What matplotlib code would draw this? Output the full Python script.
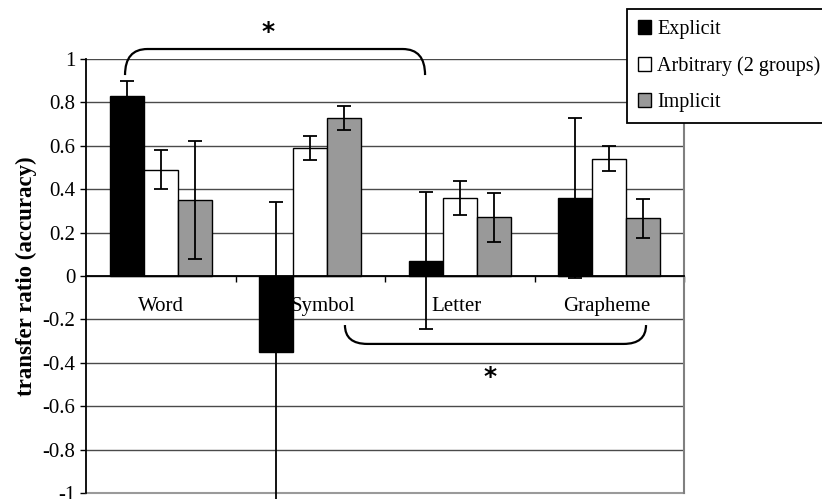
import numpy as np
import matplotlib
matplotlib.use("Agg")
import matplotlib.pyplot as plt
from matplotlib.path import Path
from matplotlib.patches import PathPatch

categories = ["Word", "Symbol", "Letter", "Grapheme"]
series = ["Explicit", "Arbitrary (2 groups)", "Implicit"]
explicit = [0.83, -0.35, 0.07, 0.36]
explicit_err = [0.07, 0.69, 0.315, 0.37]
arbitrary = [0.49, 0.59, 0.36, 0.54]
arbitrary_err = [0.09, 0.055, 0.078, 0.058]
implicit = [0.35, 0.73, 0.27, 0.265]
implicit_err = [0.27, 0.055, 0.114, 0.088]
yticks = [1, 0.8, 0.6, 0.4, 0.2, 0, -0.2, -0.4, -0.6, -0.8, -1]
ytick_labels = ["1", "0.8", "0.6", "0.4", "0.2", "0", "-0.2", "-0.4", "-0.6", "-0.8", "-1"]

plt.rcParams['font.family'] = ['Liberation Serif', 'DejaVu Serif']

W, H = 822, 499
fig = plt.figure(figsize=(W / 100, H / 100), dpi=100)
ax = fig.add_axes([86 / W, 1 - 493 / H, (684 - 86) / W, (493 - 59) / H])

x = np.arange(len(categories))
bw = 0.227
colors = ["black", "white", "#999999"]
vals = [explicit, arbitrary, implicit]
errs = [explicit_err, arbitrary_err, implicit_err]
handles = []
for i, (v, e, c, name) in enumerate(zip(vals, errs, colors, series)):
    pos = x + (i - 1) * bw
    b = ax.bar(pos, v, width=bw, color=c, edgecolor="black", linewidth=1.0,
               label=name, zorder=3)
    handles.append(b)
    ax.errorbar(pos, v, yerr=e, fmt="none", ecolor="black", elinewidth=1.3,
                capsize=4.7, capthick=1.3, zorder=4, clip_on=False)

ax.set_xlim(-0.5, 3.5)
ax.set_ylim(-1, 1)
ax.set_yticks(yticks)
ax.set_yticklabels(ytick_labels, fontsize=15)
ax.yaxis.grid(True, color="#4a4a4a", linewidth=1.0, zorder=0)
ax.set_axisbelow(True)
ax.tick_params(axis="y", direction="out", length=4.5, width=1.0, pad=3, color="black")

ax.spines["bottom"].set_position(("data", 0))
ax.spines["bottom"].set_color("black")
ax.spines["bottom"].set_linewidth(1.3)
ax.spines["bottom"].set_zorder(5)
ax.spines["left"].set_linewidth(1.3)
ax.spines["left"].set_color("black")
ax.spines["top"].set_visible(False)
ax.spines["right"].set_color("#808080")
ax.spines["right"].set_linewidth(1.5)
ax.axhline(-1, color="#9a9a9a", linewidth=1.5, zorder=1, clip_on=False)
ax.set_xticks([0.5, 1.5, 2.5, 3.5])
ax.set_xticklabels([])
ax.tick_params(axis="x", direction="out", length=4.3, width=1.0, color="black")

label_shift = [0, 0.085, -0.02, -0.02]
for xi, name, s in zip(x, categories, label_shift):
    ax.text(xi + s, -0.14, name, ha="center", va="center", fontsize=15, zorder=2)

ax.set_ylabel("transfer ratio (accuracy)", fontsize=16.5, fontweight="bold")
ax.yaxis.set_label_coords(-49 / 598, 0.5)


def bracket(x0, x1, y_end, y_mid, rx):
    verts = [(x0, y_end), (x0, y_mid), (x0 + rx, y_mid),
             (x1 - rx, y_mid), (x1, y_mid), (x1, y_end)]
    codes = [Path.MOVETO, Path.CURVE3, Path.CURVE3,
             Path.LINETO, Path.CURVE3, Path.CURVE3]
    p = PathPatch(Path(verts, codes), fill=False, edgecolor="black",
                  linewidth=1.6, clip_on=False, zorder=6)
    ax.add_patch(p)


bracket(-0.239, 1.768, 0.926, 1.046, 0.15)
bracket(1.232, 3.246, -0.226, -0.313, 0.15)
ax.text(0.717, 1.125, "*", fontsize=18, family="DejaVu Sans", fontweight="bold",
        ha="center", va="center", clip_on=False)
ax.text(2.202, -0.465, "*", fontsize=18, family="DejaVu Sans", fontweight="bold",
        ha="center", va="center")

leg = fig.legend(handles=handles, labels=series, loc="upper left",
                 bbox_to_anchor=(627 / W, 1 - 9 / H), fontsize=14.5,
                 frameon=True, fancybox=False, framealpha=1, edgecolor="black",
                 handlelength=0.65, handleheight=0.65, handletextpad=0.3,
                 labelspacing=0.85, borderpad=0.55, borderaxespad=0)
leg.get_frame().set_linewidth(1.3)

fig.savefig("out.png", dpi=100)
